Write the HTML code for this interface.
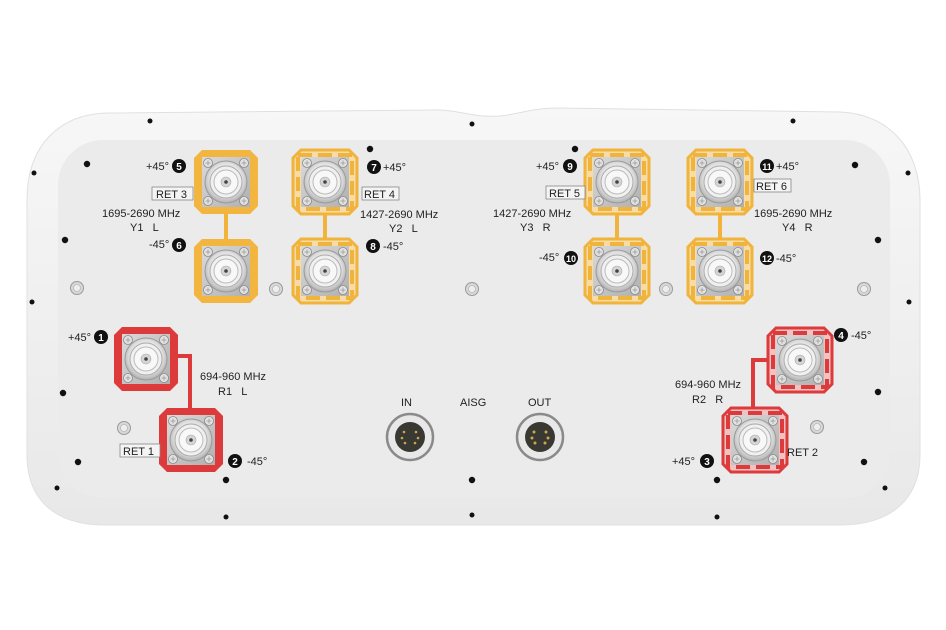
<!DOCTYPE html>
<html><head><meta charset="utf-8"><style>
html,body{margin:0;padding:0;background:#fff;}
svg{display:block;}
text{font-family:"Liberation Sans",sans-serif;font-size:11px;fill:#222;}
.b{font-weight:bold;fill:#fff;font-size:10px;text-anchor:middle;}
</style></head><body>
<svg width="946" height="630" viewBox="0 0 946 630" xmlns="http://www.w3.org/2000/svg">
<defs>
<radialGradient id="nut" cx="50%" cy="45%" r="55%"><stop offset="0" stop-color="#fcfcfc"/><stop offset="0.7" stop-color="#e2e2e2"/><stop offset="1" stop-color="#b0b0b0"/></radialGradient>
<linearGradient id="met" x1="0" y1="0" x2="1" y2="1"><stop offset="0" stop-color="#dadada"/><stop offset="1" stop-color="#b0b0b0"/></linearGradient>
<g id="scr"><circle r="4.5" fill="#e2e2e2" stroke="#8a8a8a" stroke-width="0.8"/><path d="M-2.5 0H2.5M0 -2.5V2.5" stroke="#999" stroke-width="0.8"/></g>
<g id="conn">
<rect x="-24" y="-25" width="48" height="50" fill="url(#met)"/>
<use href="#scr" x="-18" y="-19"/><use href="#scr" x="18" y="-19"/><use href="#scr" x="-18" y="19"/><use href="#scr" x="18" y="19"/>
<circle r="21" fill="url(#nut)" stroke="#9a9a9a" stroke-width="1"/>
<circle r="16" fill="#f0f0f0" stroke="#aaa" stroke-width="1"/>
<circle r="12" fill="#f8f8f8" stroke="#bbb" stroke-width="1"/>
<circle r="5" fill="#d5d5d5" stroke="#aaa" stroke-width="0.6"/>
<circle r="1.8" fill="#444"/>
</g>
<polygon id="pad" points="-24,-32 24,-32 32,-24 32,24 24,32 -24,32 -32,24 -32,-24"/>
<g id="ys"><use href="#pad" fill="#f2b53f"/><use href="#conn"/></g>
<g id="yo"><use href="#pad" fill="#f7dca6" stroke="#f0b43c" stroke-width="3"/><rect x="-27" y="-27" width="54" height="54" fill="none" stroke="#f0b43c" stroke-width="4" stroke-dasharray="14 6"/><use href="#conn"/></g>
<g id="rs"><use href="#pad" fill="#dd3a3c"/><use href="#conn"/></g>
<g id="ro"><use href="#pad" fill="#f2c2c2" stroke="#dd3a3c" stroke-width="3"/><rect x="-27" y="-27" width="54" height="54" fill="none" stroke="#dd3a3c" stroke-width="4" stroke-dasharray="14 6"/><use href="#conn"/></g>
<g id="gs"><circle r="6.5" fill="#d8d8d8" stroke="#9a9a9a" stroke-width="1"/><circle r="3.5" fill="#eee" stroke="#aaa" stroke-width="0.6"/></g>
<linearGradient id="body" x1="0" y1="0" x2="0" y2="1"><stop offset="0" stop-color="#f7f7f7"/><stop offset="1" stop-color="#e8e8e8"/></linearGradient>
</defs>
<path d="M110 113 L430 110 C460 109 470 118 500 116 C520 114 530 108 560 108 L840 112 C890 114 920 150 920 200 L920 455 C920 500 890 525 840 525 L105 525 C55 525 27 500 27 455 L27 200 C27 145 60 113 110 113 Z" fill="url(#body)" stroke="#e0e0e0" stroke-width="1"/>
<rect x="58" y="140" width="832" height="358" rx="45" fill="#ebebec"/>
<g fill="#111">
<circle cx="150" cy="121" r="2.5"/><circle cx="472" cy="124" r="2.5"/><circle cx="793" cy="121" r="2.5"/>
<circle cx="370" cy="149" r="3.2"/><circle cx="575" cy="149" r="3.2"/>
<circle cx="87" cy="164" r="3.2"/><circle cx="855" cy="165" r="3.2"/>
<circle cx="34" cy="173" r="2.5"/><circle cx="908" cy="173" r="2.5"/>
<circle cx="65" cy="240" r="3.2"/><circle cx="878" cy="240" r="3.2"/>
<circle cx="32" cy="302" r="2.5"/><circle cx="909" cy="302" r="2.5"/>
<circle cx="63" cy="393" r="3.2"/><circle cx="878" cy="392" r="3.2"/>
<circle cx="78" cy="462" r="3.2"/><circle cx="864" cy="462" r="3.2"/>
<circle cx="57" cy="488" r="2.5"/><circle cx="885" cy="488" r="2.5"/>
<circle cx="226" cy="480" r="3.2"/><circle cx="472" cy="480" r="3.2"/><circle cx="717" cy="480" r="3.2"/>
<circle cx="226" cy="517" r="2.5"/><circle cx="472" cy="515" r="2.5"/><circle cx="717" cy="517" r="2.5"/>
</g>
<g>
<use href="#gs" x="77" y="288"/><use href="#gs" x="276" y="289"/><use href="#gs" x="472" y="289"/><use href="#gs" x="666" y="289"/><use href="#gs" x="864" y="289"/><use href="#gs" x="124" y="428"/><use href="#gs" x="817" y="427"/>
</g>
<g stroke-width="4" fill="none">
<path d="M226 210 V242" stroke="#f0b43c"/><path d="M325 210 V242" stroke="#f0b43c"/>
<path d="M617 210 V242" stroke="#f0b43c"/><path d="M720 210 V242" stroke="#f0b43c"/>
<path d="M176 356 H190 V410" stroke="#dd3a3c"/>
<path d="M770 360 H753 V410" stroke="#dd3a3c"/>
</g>
<use href="#ys" x="226" y="182"/><use href="#ys" x="226" y="271"/>
<use href="#yo" x="325" y="182"/><use href="#yo" x="325" y="271"/>
<use href="#yo" x="617" y="182"/><use href="#yo" x="617" y="271"/>
<use href="#yo" x="720" y="182"/><use href="#yo" x="720" y="271"/>
<use href="#rs" x="146" y="359"/><use href="#rs" x="191" y="440"/>
<use href="#ro" x="800" y="360"/><use href="#ro" x="755" y="440"/>
<g>
<circle cx="410" cy="437" r="23" fill="#e8e8e8" stroke="#8a8a8a" stroke-width="2.5"/><circle cx="410" cy="437" r="15" fill="#3a3832"/>
<g fill="#c9a84a"><circle cx="404" cy="432" r="1.3"/><circle cx="416" cy="432" r="1.3"/><circle cx="402" cy="438" r="1.3"/><circle cx="418" cy="438" r="1.3"/><circle cx="405" cy="443" r="1.3"/><circle cx="415" cy="443" r="1.3"/></g>
<circle cx="540" cy="437" r="23" fill="#e8e8e8" stroke="#8a8a8a" stroke-width="2.5"/><circle cx="540" cy="437" r="15" fill="#3a3832"/>
<g fill="#c9a84a"><circle cx="534" cy="432" r="1.5"/><circle cx="546" cy="432" r="1.5"/><circle cx="532" cy="438" r="1.5"/><circle cx="548" cy="438" r="1.5"/><circle cx="535" cy="443" r="1.5"/><circle cx="545" cy="443" r="1.5"/></g>
<text x="401" y="406">IN</text><text x="460" y="406">AISG</text><text x="528" y="406">OUT</text>
</g>
<g>
<text x="146" y="170">+45°</text><circle cx="179" cy="166" r="7" fill="#111"/><text class="b" x="179" y="170">5</text>
<rect x="152" y="187" width="41" height="13" fill="#f4f4f4" stroke="#888" stroke-width="0.8"/><text x="156" y="198">RET 3</text>
<text x="102" y="217">1695-2690 MHz</text><text x="130" y="231">Y1&#160;&#160;&#160;L</text>
<text x="149" y="248">-45°</text><circle cx="179" cy="245" r="7" fill="#111"/><text class="b" x="179" y="249">6</text>
<circle cx="374" cy="167" r="7" fill="#111"/><text class="b" x="374" y="171">7</text><text x="383" y="171">+45°</text>
<rect x="362" y="187" width="37" height="13" fill="#f4f4f4" stroke="#888" stroke-width="0.8"/><text x="364" y="198">RET 4</text>
<text x="360" y="218">1427-2690 MHz</text><text x="389" y="232">Y2&#160;&#160;&#160;L</text>
<circle cx="373" cy="246" r="7" fill="#111"/><text class="b" x="373" y="250">8</text><text x="383" y="250">-45°</text>
<text x="536" y="170">+45°</text><circle cx="570" cy="166" r="7" fill="#111"/><text class="b" x="570" y="170">9</text>
<rect x="546" y="186" width="39" height="13" fill="#f4f4f4" stroke="#888" stroke-width="0.8"/><text x="549" y="197">RET 5</text>
<text x="493" y="217">1427-2690 MHz</text><text x="520" y="231">Y3&#160;&#160;&#160;R</text>
<text x="539" y="261">-45°</text><circle cx="571" cy="258" r="7" fill="#111"/><text class="b" x="571" y="262" style="font-size:9px">10</text>
<circle cx="767" cy="166" r="7" fill="#111"/><text class="b" x="767" y="170" style="font-size:9px">11</text><text x="776" y="170">+45°</text>
<rect x="754" y="179" width="37" height="13" fill="#f4f4f4" stroke="#888" stroke-width="0.8"/><text x="756" y="190">RET 6</text>
<text x="754" y="217">1695-2690 MHz</text><text x="782" y="231">Y4&#160;&#160;&#160;R</text>
<circle cx="767" cy="258" r="7" fill="#111"/><text class="b" x="767" y="262" style="font-size:9px">12</text><text x="776" y="262">-45°</text>
<text x="68" y="341">+45°</text><circle cx="101" cy="337" r="7" fill="#111"/><text class="b" x="101" y="341">1</text>
<text x="200" y="380">694-960 MHz</text><text x="218" y="395">R1&#160;&#160;&#160;L</text>
<rect x="120" y="444" width="40" height="13" fill="#f4f4f4" stroke="#888" stroke-width="0.8"/><text x="123" y="455">RET 1</text>
<circle cx="235" cy="461" r="7" fill="#111"/><text class="b" x="235" y="465">2</text><text x="247" y="465">-45°</text>
<circle cx="841" cy="335" r="7" fill="#111"/><text class="b" x="841" y="339">4</text><text x="851" y="339">-45°</text>
<text x="675" y="388">694-960 MHz</text><text x="692" y="403">R2&#160;&#160;&#160;R</text>
<text x="787" y="456">RET 2</text>
<text x="672" y="465">+45°</text><circle cx="707" cy="461" r="7" fill="#111"/><text class="b" x="707" y="465">3</text>
</g>
</svg>
</body></html>
